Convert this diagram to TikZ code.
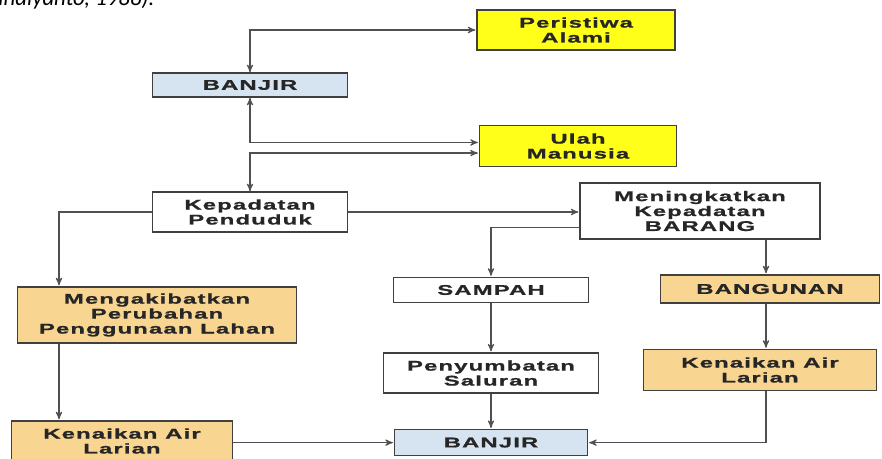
\documentclass[tikz,border=0pt]{standalone}
\usepackage{fontspec}
\usetikzlibrary{positioning,arrows}
\newfontfamily\boxfont[FakeStretch=1.7,LetterSpace=8,FakeBold=1]{Liberation Sans Bold}
\newfontfamily\notefont{Carlito}
\definecolor{banjirblue}{HTML}{D6E4F1}
\definecolor{causeyellow}{HTML}{FFFF1A}
\definecolor{effecttan}{HTML}{F9D592}
\definecolor{linegray}{HTML}{505050}

\begin{document}
\begin{tikzpicture}[x=0.02cm,y=-0.02cm,>=stealth',shorten >=0.5pt,
  thin,
  box/.style={rectangle,draw=black!75,line width=0.9pt,inner sep=0pt,align=center,
    text=black!85,font=\boxfont\fontsize{8}{8.5}\selectfont},
  bluebox/.style={box,fill=banjirblue},
  yellowbox/.style={box,fill=causeyellow},
  tanbox/.style={box,fill=effecttan},
  whitebox/.style={box,fill=white},
  link/.style={draw=linegray,line width=0.6pt}]
  \useasboundingbox (0,0) rectangle (882,459);
  \clip (0,0) rectangle (882,459);

  % left half of the page cut-off caption
  \node[anchor=base west,inner sep=0pt,font=\notefont\itshape\fontsize{13}{14}\selectfont] (caption) at (-2,6) {inaiyanto, 1988).};

  \node[bluebox,minimum width=3.9cm,minimum height=0.48cm]    (banjirA)   at (250,85)  {BANJIR};
  \node[yellowbox,minimum width=3.96cm,minimum height=0.8cm]  (alami)     at (576,30)  {Peristiwa\\Alami};
  \node[yellowbox,minimum width=3.94cm,minimum height=0.82cm] (ulah)      at (578,146) {Ulah\\Manusia};
  \node[whitebox,minimum width=3.9cm,minimum height=0.8cm]    (kepadatan) at (250,212) {Kepadatan\\Penduduk};
  \node[whitebox,minimum width=4.8cm,minimum height=1.12cm]   (barang)    at (700,211) {Meningkatkan\\Kepadatan\\BARANG};
  \node[tanbox,minimum width=5.58cm,minimum height=1.12cm]    (lahan)     at (157,315) {Mengakibatkan\\Perubahan\\Penggunaan Lahan};
  \node[whitebox,minimum width=3.9cm,minimum height=0.5cm]    (sampah)    at (491,290) {SAMPAH};
  \node[whitebox,minimum width=4.3cm,minimum height=0.8cm]    (saluran)   [below=0.98cm of sampah] {Penyumbatan\\Saluran};
  \node[bluebox,minimum width=3.86cm,minimum height=0.52cm]   (banjirB)   [below=0.7cm of saluran] {BANJIR};
  \node[tanbox,minimum width=4.38cm,minimum height=0.56cm]    (bangunan)  at (770,289) {BANGUNAN};
  \node[tanbox,minimum width=4.66cm,minimum height=0.82cm]    (larianB)   at (760,370) {Kenaikan Air\\Larian};
  \node[tanbox,minimum width=4.42cm,minimum height=0.8cm]     (larianA)   at (122,441) {Kenaikan Air\\Larian};

  \coordinate (colL) at (59,0);
  \coordinate (colR) at (766,0);

  \draw[link,<->] (banjirA.north) |- (alami.west);
  \draw[link,<->] (banjirA.south) |- ([yshift=2pt]ulah.west);
  \draw[link,<->] (kepadatan.north) |- ([yshift=-4pt]ulah.west);
  \draw[link,->] (kepadatan.east) -- (kepadatan.east -| barang.west);
  \draw[link,->] (kepadatan.west) -| (lahan.north -| colL);
  \draw[link,->] (lahan.south -| colL) -- (larianA.north -| colL);
  \draw[link,->] (larianA.east |- banjirB.west) -- (banjirB.west);
  \draw[link,->] ([yshift=-9.6pt]barang.west) -| (sampah.north);
  \draw[link,->] (sampah.south) -- (saluran.north);
  \draw[link,->] (saluran.south) -- (banjirB.north);
  \draw[link,->] (barang.south -| colR) -- (bangunan.north -| colR);
  \draw[link,->] (bangunan.south -| colR) -- (larianB.north -| colR);
  \draw[link,->] (larianB.south -| colR) |- (banjirB.east);
\end{tikzpicture}
\end{document}
